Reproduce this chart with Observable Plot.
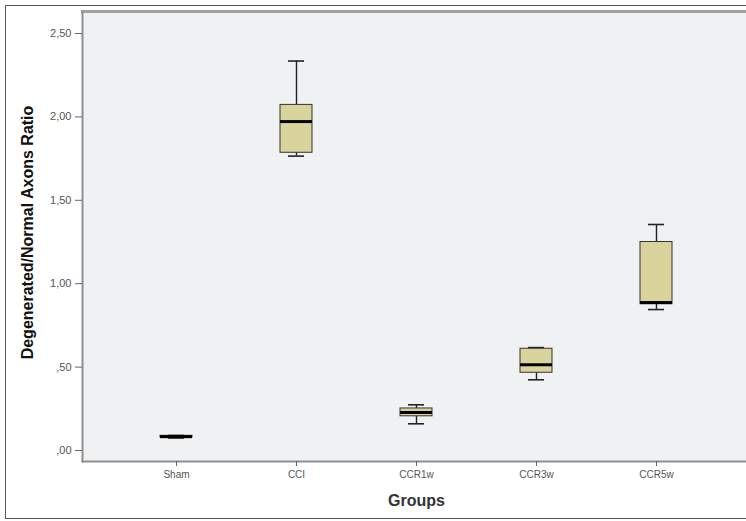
<!DOCTYPE html>
<html><head><meta charset="utf-8">
<script src="https://cdn.jsdelivr.net/npm/d3@7"></script>
<script src="https://cdn.jsdelivr.net/npm/@observablehq/plot@0.6"></script>
<style>
html,body{margin:0;padding:0;background:#fff;overflow:hidden;}
#wrap{position:relative;width:746px;height:521px;overflow:hidden;}
#wrap svg{position:absolute;left:0;top:0;max-width:none !important;}
#border{position:absolute;left:5px;top:5px;width:780px;height:514px;border:1px solid #555;box-sizing:border-box;pointer-events:none;z-index:2;}
</style></head><body><div id="wrap"><div id="border"></div></div>
<script>
const groups = ["Sham", "CCI", "CCR1w", "CCR3w", "CCR5w"];
const whiskerLow = [0.075, 1.765, 0.16, 0.424, 0.845];
const q1 = [0.078, 1.785, 0.205, 0.466, 0.877];
const median = [0.083, 1.972, 0.228, 0.514, 0.887];
const q3 = [0.088, 2.072, 0.252, 0.61, 1.25];
const whiskerHigh = [0.09, 2.335, 0.274, 0.617, 1.355];
const yTicks = [0, 0.5, 1, 1.5, 2, 2.5];
const yTickLabels = [",00", ",50", "1,00", "1,50", "2,00", "2,50"];
const xLabel = "Groups";
const yLabel = "Degenerated/Normal Axons Ratio";

const data = groups.map((g, i) => ({group: g, lo: whiskerLow[i], q1: q1[i], med: median[i], q3: q3[i], hi: whiskerHigh[i]}));

const chart = Plot.plot({
  width: 770, height: 521,
  marginLeft: 82, marginRight: 0, marginTop: 11, marginBottom: 60,
  style: {fontFamily: "'Liberation Sans', Arial, sans-serif", background: "transparent", maxWidth: "none"},
  x: {type: "band", domain: groups, range: [82, 750], paddingInner: 0.7344, paddingOuter: 0.639, label: null},
  y: {domain: [-0.066, 2.632], label: null},
  marks: [
    Plot.frame({fill: "#f0f1f2", stroke: "none"}),
    Plot.frame({anchor: "top", stroke: "#a0a0a0", strokeWidth: 3}),
    Plot.frame({anchor: "bottom", stroke: "#8f8f8f", strokeWidth: 2}),
    Plot.frame({anchor: "left", stroke: "#8f8f8f", strokeWidth: 2}),
    Plot.axisY({ticks: yTicks, tickFormat: d => yTickLabels[yTicks.indexOf(d)], tickSize: 7, tickPadding: 4, fontSize: 11, label: null}),
    Plot.axisX({tickSize: 5, tickPadding: 4, fontSize: 10, label: null}),
    Plot.ruleX(data, {x: "group", y1: "q3", y2: "hi", stroke: "#222", strokeWidth: 1.4}),
    Plot.ruleX(data, {x: "group", y1: "lo", y2: "q1", stroke: "#222", strokeWidth: 1.4}),
    Plot.tickY(data, {x: "group", y: "hi", insetLeft: 8, insetRight: 8, stroke: "#222", strokeWidth: 1.6}),
    Plot.tickY(data, {x: "group", y: "lo", insetLeft: 8, insetRight: 8, stroke: "#222", strokeWidth: 1.6}),
    Plot.barY(data, {x: "group", y1: "q1", y2: "q3", fill: "#d8d49b", stroke: "#333", strokeWidth: 1}),
    Plot.tickY(data, {x: "group", y: "med", stroke: "#000", strokeWidth: 3}),
    Plot.text([yLabel], {text: d => d, frameAnchor: "left", dx: -55, dy: -4, rotate: -90, textAnchor: "middle", fontSize: 16, fontWeight: "bold", fill: "#111"}),
    Plot.text([xLabel], {text: d => d, frameAnchor: "bottom", dx: -10, dy: 44, fontSize: 16, fontWeight: "bold", fill: "#333"})
  ]
});
d3.select(chart).selectAll('[aria-label="y-axis tick label"] text, [aria-label="x-axis tick label"] text').attr("fill", "#555");
d3.select(chart).selectAll('[aria-label="y-axis tick"], [aria-label="x-axis tick"]').attr("stroke", "#666");
document.getElementById("wrap").appendChild(chart);
</script>
</body></html>
